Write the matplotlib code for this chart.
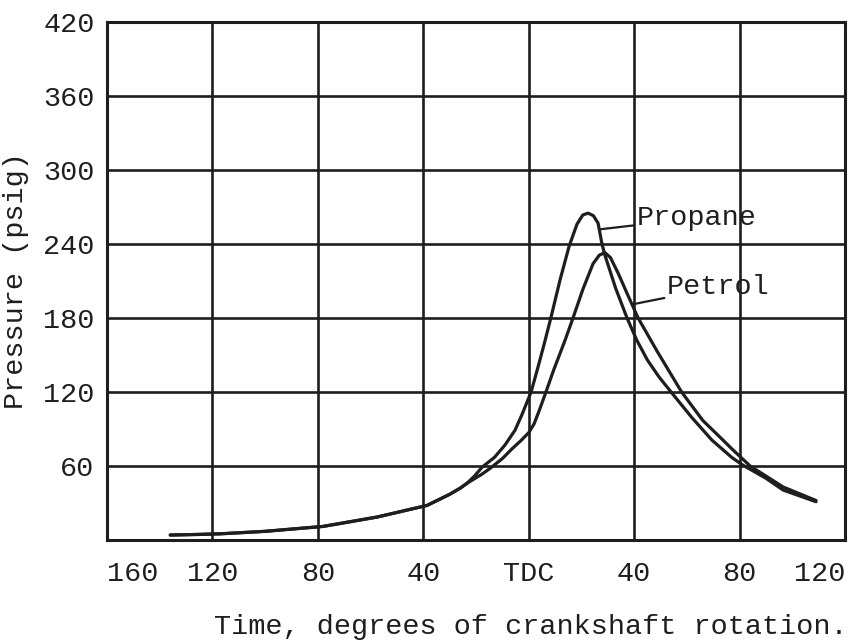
"""
Cylinder pressure vs crank angle, propane vs petrol.
Redrawn from a scanned typewriter-style chart.
"""

import matplotlib.pyplot as plt
from matplotlib.ticker import FixedLocator

plt.rcParams['font.family'] = ['Liberation Mono', 'DejaVu Sans Mono']

# crank angle (deg, negative = before TDC) and pressure (psig)
propane_x = [-136, -125, -117, -100, -78, -57.5, -38.6, -30, -26, -23.4,
             -20.5, -17.7, -13, -9, -5.2, -2.5, 0.9, 3.5, 6, 8.5, 11.9,
             15.3, 18.3, 20.5, 22.5, 24.5, 26.3, 27.8, 28.9, 33, 37.3, 41,
             45, 49.5, 54, 62, 69.5, 77, 81, 90, 96.5, 109]
propane_y = [4, 4.5, 5, 7, 11, 18.6, 28, 37, 42, 46,
             52, 59, 67, 77, 89, 102, 120, 140, 160, 181, 211,
             238, 256, 263.5, 265, 263, 257, 240, 231, 204, 180, 162,
             146, 132, 120, 99, 81, 67, 61, 50, 40.5, 31]

petrol_x = [-136, -125, -117, -100, -78, -57.5, -38.6, -30, -26, -23.4,
            -18, -14.7, -10, -6.3, -3, 0, 2, 4, 6.2, 9.5, 13.8, 16.8, 20.5,
            24.4, 26.8, 28.9, 31, 33.9, 37.3, 41.5, 49, 58, 66, 73.7, 77,
            84, 96.5, 109]
petrol_y = [4, 4.5, 5, 7, 11, 18.6, 28, 37, 42, 46,
            53, 58, 66, 74, 80.5, 87, 94, 105, 118, 138, 162, 180, 203,
            224, 231, 233, 229, 216.5, 200, 180, 152, 120, 97, 81, 74,
            60, 43, 32]

x_ticks = [-160, -120, -80, -40, 0, 40, 80, 120]
x_tick_labels = ['160', '120', '80', '40', 'TDC', '40', '80', '120']
y_ticks = [60, 120, 180, 240, 300, 360, 420]

ink = '#1e1e1e'

fig = plt.figure(figsize=(8.59, 6.4), dpi=100)
ax = fig.add_axes([0.1246, 0.1563, 0.8591, 0.8093])

ax.set_xlim(-160, 120)
ax.set_ylim(0, 420)

# grid
ax.set_xticks(x_ticks)
ax.set_xticklabels(x_tick_labels)
ax.set_yticks(y_ticks)
ax.grid(True, color=ink, linewidth=1.9)
ax.set_axisbelow(True)
for s in ax.spines.values():
    s.set_color(ink)
    s.set_linewidth(2.2)

ax.tick_params(axis='both', length=0, labelsize=20.5, colors=ink)
ax.tick_params(axis='x', pad=15)
ax.tick_params(axis='y', pad=9)
tl = ax.get_xticklabels()
tl[0].set_horizontalalignment('left')
tl[-1].set_horizontalalignment('right')

# little tick below the axis at TDC
ax.xaxis.set_minor_locator(FixedLocator([0]))
ax.tick_params(axis='x', which='minor', length=11, width=1.8, color=ink)

# curves
ax.plot(propane_x, propane_y, color=ink, linewidth=2.3,
        solid_capstyle='round', solid_joinstyle='round')
ax.plot(petrol_x, petrol_y, color=ink, linewidth=2.3,
        solid_capstyle='round', solid_joinstyle='round')

# labels with leader lines
ax.annotate('Propane', xy=(27.4, 252), xytext=(41.1, 261),
            fontsize=20.5, color=ink, va='center', ha='left',
            arrowprops=dict(arrowstyle='-', color=ink, lw=1.6,
                            shrinkA=0, shrinkB=0))
ax.annotate('Petrol', xy=(39.2, 191), xytext=(52.5, 205),
            fontsize=20.5, color=ink, va='center', ha='left',
            arrowprops=dict(arrowstyle='-', color=ink, lw=1.6,
                            shrinkA=0, shrinkB=0))

ax.set_ylabel('Pressure (psig)', fontsize=20.5, color=ink, labelpad=10)
fig.text(0.618, 0.02, 'Time, degrees of crankshaft rotation.',
         fontsize=20.5, color=ink, ha='center', va='center')

fig.savefig('out.png', dpi=100, facecolor='white')
